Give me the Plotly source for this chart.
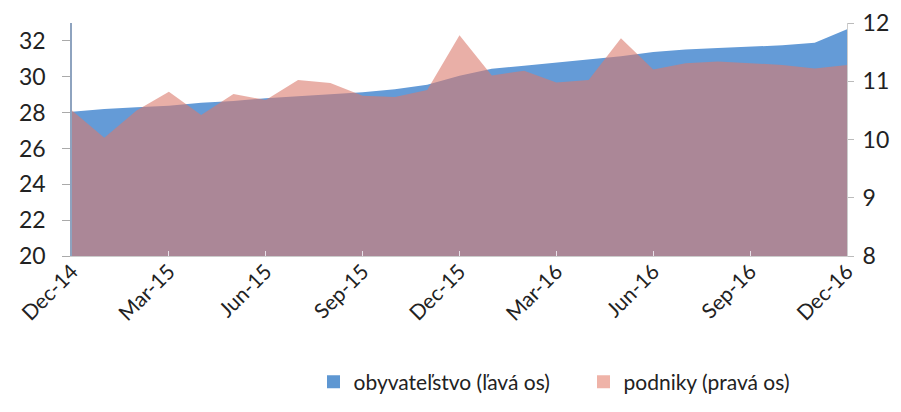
import plotly.graph_objects as go

months = ["Dec-14", "Jan-15", "Feb-15", "Mar-15", "Apr-15", "May-15", "Jun-15", "Jul-15",
          "Aug-15", "Sep-15", "Oct-15", "Nov-15", "Dec-15", "Jan-16", "Feb-16", "Mar-16",
          "Apr-16", "May-16", "Jun-16", "Jul-16", "Aug-16", "Sep-16", "Oct-16", "Nov-16", "Dec-16"]

obyvatelstvo = [28.05, 28.2, 28.3, 28.38, 28.55, 28.65, 28.8, 28.9, 29.0, 29.13, 29.3, 29.55,
                30.05, 30.45, 30.62, 30.8, 30.98, 31.15, 31.38, 31.52, 31.6, 31.68, 31.76, 31.9, 32.65]

podniky = [10.5, 10.03, 10.5, 10.82, 10.42, 10.78, 10.68, 11.02, 10.97, 10.75, 10.73, 10.85,
           11.79, 11.1, 11.18, 10.98, 11.02, 11.74, 11.2, 11.31, 11.34, 11.31, 11.28, 11.22, 11.28]

tick_labels = ["Dec-14", "Mar-15", "Jun-15", "Sep-15", "Dec-15", "Mar-16", "Jun-16", "Sep-16", "Dec-16"]
left_ticks = [20, 22, 24, 26, 28, 30, 32]
right_ticks = [8, 9, 10, 11, 12]

name_left = "obyvateľstvo (ľavá os)"
name_right = "podniky (pravá os)"

FONT = "Lato, 'Open Sans', sans-serif"
BLUE = "#649BD7"
PINK_FILL = "rgba(218,122,108,0.6)"

fig = go.Figure()
fig.add_trace(go.Scatter(
    x=months, y=obyvatelstvo, name=name_left, showlegend=False,
    mode="lines", line=dict(width=0, color=BLUE),
    fill="tozeroy", fillcolor=BLUE, yaxis="y",
))
fig.add_trace(go.Scatter(
    x=months, y=podniky, name=name_right, showlegend=False,
    mode="lines", line=dict(width=0, color=PINK_FILL),
    fill="tozeroy", fillcolor=PINK_FILL, yaxis="y2",
))
# legend entries (square swatches)
fig.add_trace(go.Scatter(x=[None], y=[None], name=name_left, mode="markers",
                         marker=dict(symbol="square", size=13, color="#5E97D2")))
fig.add_trace(go.Scatter(x=[None], y=[None], name=name_right, mode="markers",
                         marker=dict(symbol="square", size=13, color="#EFB3A8")))

# the page body adds an 8px offset, so margins are set 8px smaller at left/top
fig.update_layout(
    width=901, height=412,
    margin=dict(l=64, r=62, t=15, b=164, autoexpand=False),
    paper_bgcolor="white", plot_bgcolor="white",
    font=dict(family=FONT, size=20, color="#222222"),
    showlegend=True,
    legend=dict(orientation="h", x=0.66, xanchor="center", y=-0.541, yanchor="middle",
                font=dict(size=21, color="#222222"), itemwidth=30, tracegroupgap=0,
                entrywidth=225, entrywidthmode="pixels",
                bgcolor="rgba(0,0,0,0)"),
    xaxis=dict(
        type="category", categoryorder="array", categoryarray=months,
        range=[0, len(months) - 1], automargin=False,
        tickmode="array", tickvals=tick_labels, ticktext=tick_labels,
        tickangle=-45, ticks="inside", ticklen=5, tickcolor="#E8E0E8",
        ticklabelstandoff=-6,
        showline=True, linecolor="#CCCCCC", linewidth=1,
        showgrid=False, zeroline=False,
        tickfont=dict(size=21),
    ),
    yaxis=dict(
        range=[20, 33], tickmode="array", tickvals=left_ticks, automargin=False,
        showgrid=False, zeroline=False,
        showline=True, linecolor="#8EA3BF", linewidth=1.5,
        ticks="outside", ticklen=8, tickcolor="#AAAAAA",
        ticklabelstandoff=12,
        tickfont=dict(size=23),
    ),
    yaxis2=dict(
        range=[8, 12], tickmode="array", tickvals=right_ticks, automargin=False,
        overlaying="y", side="right",
        showgrid=False, zeroline=False,
        showline=True, linecolor="#CCCCCC", linewidth=1,
        ticks="outside", ticklen=6, tickcolor="#BBBBBB",
        ticklabelstandoff=4,
        tickfont=dict(size=23),
    ),
)

fig.write_html("out.html")
